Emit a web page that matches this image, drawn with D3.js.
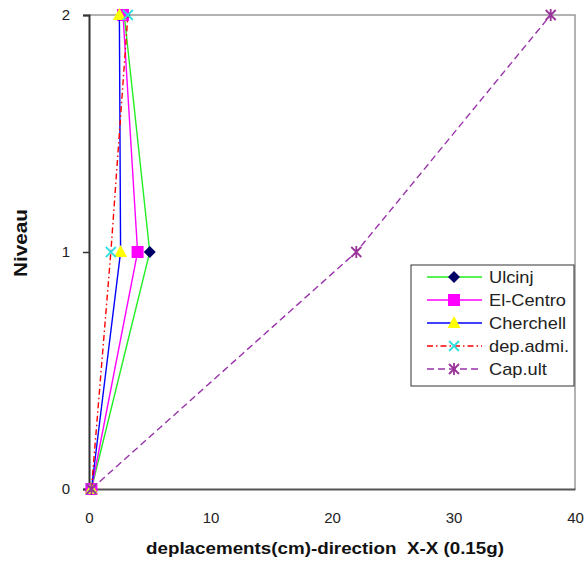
<!DOCTYPE html>
<html>
<head>
<meta charset="utf-8">
<script src="https://cdn.jsdelivr.net/npm/d3@7/dist/d3.min.js"></script>
<style>
  body { margin: 0; background: #fff; }
  svg { display: block; font-family: "Liberation Sans", Arial, sans-serif; }
</style>
</head>
<body>
<svg id="chart" width="586" height="563"></svg>
<script>
// Storey levels and lateral displacement (cm) per record
const levels = [0, 1, 2];
const ulcinj = [0.2, 5.0, 2.9];
const elCentro = [0.2, 4.0, 2.8];
const cherchell = [0.2, 2.6, 2.5];
const depAdmi = [0.2, 1.8, 3.2];
const capUlt = [0.2, 22.0, 38.0];

const xTicks = [0, 10, 20, 30, 40];
const yTicks = [0, 1, 2];

const seriesNames = ["Ulcinj", "El-Centro", "Cherchell", "dep.admi.", "Cap.ult"];
const seriesValues = [ulcinj, elCentro, cherchell, depAdmi, capUlt];

const styles = [
  { stroke: "#22ee22", dash: null, marker: "diamond", fill: "#000066", mstroke: "#000066" },
  { stroke: "#ff00ff", dash: null, marker: "square", fill: "#ff00ff", mstroke: "#ff00ff" },
  { stroke: "#0000ff", dash: null, marker: "triangle", fill: "#ffff00", mstroke: "#ffff00" },
  { stroke: "#ff0000", dash: "6,3,1.5,3", marker: "x", fill: "none", mstroke: "#33dddd" },
  { stroke: "#9933aa", dash: "7,4", marker: "star", fill: "none", mstroke: "#993399" }
];

const svg = d3.select("#chart");
const plot = { left: 89, right: 575, top: 15, bottom: 489 };

const x = d3.scaleLinear().domain([0, 40]).range([plot.left, plot.right]);
const y = d3.scaleLinear().domain([0, 2]).range([plot.bottom, plot.top]);

// plot frame (top and right edges)
svg.append("path")
  .attr("d", `M${plot.left},${plot.top}H${plot.right}V${plot.bottom}`)
  .attr("fill", "none").attr("stroke", "#999").attr("stroke-width", 1.5);

// x axis
const xAxis = svg.append("g").attr("transform", `translate(0,${plot.bottom})`)
  .call(d3.axisBottom(x).tickValues(xTicks).tickSize(0).tickPadding(23));
xAxis.select(".domain").attr("stroke", "#555").attr("stroke-width", 2);
xAxis.selectAll("text").attr("font-size", 15).attr("fill", "#222");

// y axis
const yAxis = svg.append("g").attr("transform", `translate(${plot.left},0)`)
  .call(d3.axisLeft(y).tickValues(yTicks).tickSize(6).tickPadding(13).tickFormat(d3.format("d")));
yAxis.select(".domain").attr("stroke", "#333").attr("stroke-width", 2);
yAxis.selectAll(".tick line").attr("stroke", "#333").attr("stroke-width", 1.5);
yAxis.selectAll("text").attr("font-size", 15).attr("fill", "#222");

// axis titles
svg.append("text")
  .attr("x", 325).attr("y", 554)
  .attr("text-anchor", "middle")
  .attr("font-size", 17).attr("font-weight", "bold").attr("fill", "#111")
  .attr("xml:space", "preserve")
  .attr("textLength", 358).attr("lengthAdjust", "spacingAndGlyphs")
  .text("deplacements(cm)-direction  X-X (0.15g)");

svg.append("text")
  .attr("transform", "translate(27,243) rotate(-90)")
  .attr("text-anchor", "middle")
  .attr("font-size", 18).attr("font-weight", "bold").attr("fill", "#111")
  .attr("textLength", 68).attr("lengthAdjust", "spacingAndGlyphs")
  .text("Niveau");

function drawMarker(g, type, cx, cy, st) {
  if (type === "diamond") {
    g.append("path").attr("d", `M${cx},${cy - 6}L${cx + 6},${cy}L${cx},${cy + 6}L${cx - 6},${cy}Z`)
      .attr("fill", st.fill);
  } else if (type === "square") {
    g.append("rect").attr("x", cx - 6).attr("y", cy - 6).attr("width", 12).attr("height", 12)
      .attr("fill", st.fill);
  } else if (type === "triangle") {
    g.append("path").attr("d", `M${cx},${cy - 7}L${cx + 6.5},${cy + 5}L${cx - 6.5},${cy + 5}Z`)
      .attr("fill", st.fill);
  } else if (type === "x") {
    g.append("path").attr("d", `M${cx - 5},${cy - 5}L${cx + 5},${cy + 5}M${cx - 5},${cy + 5}L${cx + 5},${cy - 5}`)
      .attr("stroke", st.mstroke).attr("stroke-width", 1.8).attr("fill", "none");
  } else if (type === "star") {
    g.append("path").attr("d", `M${cx - 5},${cy - 5}L${cx + 5},${cy + 5}M${cx - 5},${cy + 5}L${cx + 5},${cy - 5}M${cx},${cy - 6}V${cy + 6}`)
      .attr("stroke", st.mstroke).attr("stroke-width", 1.8).attr("fill", "none");
  }
}

const line = d3.line().x(d => x(d[0])).y(d => y(d[1]));

seriesValues.forEach((vals, i) => {
  const st = styles[i];
  const pts = vals.map((v, j) => [v, levels[j]]);
  const g = svg.append("g");
  g.append("path").datum(pts).attr("d", line)
    .attr("fill", "none").attr("stroke", st.stroke).attr("stroke-width", 1.4)
    .attr("stroke-dasharray", st.dash);
  pts.forEach(p => drawMarker(g, st.marker, x(p[0]), y(p[1]), st));
});

// legend
const lg = svg.append("g");
lg.append("rect").attr("x", 411).attr("y", 265).attr("width", 163).attr("height", 121)
  .attr("fill", "#fff").attr("stroke", "#333").attr("stroke-width", 1);
seriesNames.forEach((name, i) => {
  const st = styles[i];
  const ly = 277 + i * 23;
  lg.append("line").attr("x1", 427).attr("x2", 482).attr("y1", ly).attr("y2", ly)
    .attr("stroke", st.stroke).attr("stroke-width", 1.4).attr("stroke-dasharray", st.dash);
  drawMarker(lg, st.marker, 454, ly, st);
  lg.append("text").attr("transform", `translate(489,${ly + 5.5}) scale(1.14,1)`)
    .attr("font-size", 16).attr("fill", "#222").text(name);
});
</script>
</body>
</html>
